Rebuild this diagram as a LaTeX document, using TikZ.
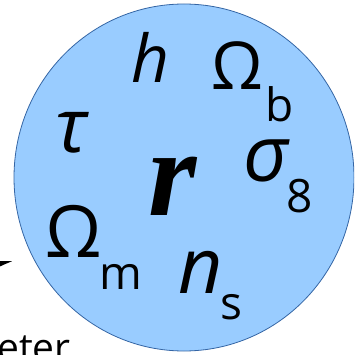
\documentclass[tikz,border=0pt]{standalone}
\usepackage{fontspec}
\setmainfont{Open Sans}
\newfontfamily\serifbi{Liberation Serif}
\usetikzlibrary{arrows.meta}
\definecolor{ballfill}{HTML}{99CCFF}
\definecolor{balledge}{HTML}{3465A4}
\tikzset{
  param/.style={anchor=base west, inner sep=0pt, font=\fontsize{70}{70}\selectfont\itshape},
  greek/.style={anchor=base west, inner sep=0pt, font=\fontsize{68}{68}\selectfont},
  subscr/.style={anchor=base west, inner sep=0pt, font=\fontsize{46}{46}\selectfont},
  ball/.style={draw=balledge, fill=ballfill, line width=0.8pt}
}
\begin{document}
\begin{tikzpicture}[x=1pt, y=-1pt]
  \useasboundingbox (0,0) rectangle (354,355);
  \clip (0,0) rectangle (354,355);

  \draw[ball] (184,177.5) ellipse [x radius=170, y radius=173.5];

  \node[param, font=\fontsize{66}{66}\selectfont\itshape] (h) at (131,83) {h};
  \node[greek, font=\fontsize{66}{66}\selectfont] (Ob) at (211,90) {Ω};
  \node[subscr] (b) at (265,122) {b};
  \node[param, font=\fontsize{75}{75}\selectfont\itshape] (tau) at (55,153) {τ};
  \node[anchor=base west, inner sep=0pt, font=\fontsize{124}{124}\selectfont\serifbi\bfseries\itshape] (r) at (148,215) {r};
  \node[param, font=\fontsize{78}{78}\selectfont\itshape] (sigma) at (243,182) {σ};
  \node[subscr] (eight) at (286,212) {8};
  \node[greek, font=\fontsize{72}{72}\selectfont] (Om) at (45,257) {Ω};
  \node[subscr] (m) at (99,289) {m};
  \node[param, font=\fontsize{77}{77}\selectfont\itshape] (n) at (178,293) {n};
  \node[subscr] (s) at (220,319) {s};

  \node[anchor=base west, inner sep=0pt, font=\fontsize{39}{39}\selectfont] (word) at (-3,361) {eter};

  \coordinate (tail) at (-80,280);
  \coordinate (tip) at (13,261);
  \draw[line width=2pt, -{Latex[length=26pt, width=13pt]}] (tail) -- (tip);
\end{tikzpicture}
\end{document}
